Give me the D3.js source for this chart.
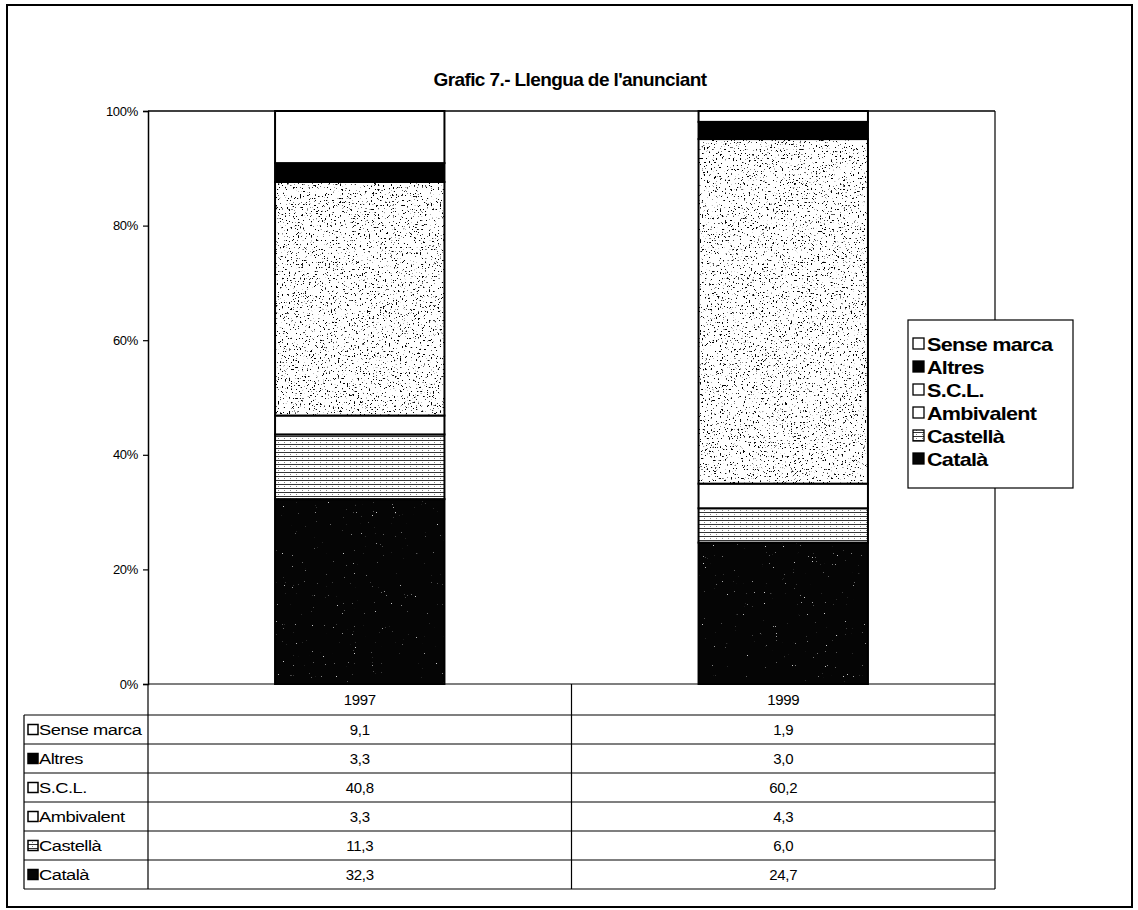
<!DOCTYPE html>
<html>
<head>
<meta charset="utf-8">
<script src="https://cdn.jsdelivr.net/npm/d3@7"></script>
<style>
  html, body { margin: 0; padding: 0; background: #fff; }
  svg { display: block; font-family: "Liberation Sans", Arial, sans-serif; }
</style>
</head>
<body>
<svg id="chart" width="1138" height="910"></svg>
<script>
// ---- data ----
const years = ["1997", "1999"];
const seriesBottomUp = ["Català", "Castellà", "Ambivalent", "S.C.L.", "Altres", "Sense marca"];
const catala     = [32.3, 24.7];
const castella   = [11.3, 6.0];
const ambivalent = [3.3, 4.3];
const scl        = [40.8, 60.2];
const altres     = [3.3, 3.0];
const senseMarca = [9.1, 1.9];
const yTickValues = [0, 0.2, 0.4, 0.6, 0.8, 1];
const titleText = "Grafic 7.- Llengua de l'anunciant";

const valuesBySeries = {
  "Català": catala, "Castellà": castella, "Ambivalent": ambivalent,
  "S.C.L.": scl, "Altres": altres, "Sense marca": senseMarca
};
const rows = years.map((yr, i) => {
  const r = { year: yr };
  seriesBottomUp.forEach(s => r[s] = valuesBySeries[s][i]);
  return r;
});
const tableOrder = seriesBottomUp.slice().reverse();

// ---- layout ----
const svg = d3.select("#chart");
const L = 148, R = 995, T = 111, B = 684;
const headerH = 31, rowH = 29, tableLeft = 24;

const defs = svg.append("defs");
// horizontal-line pattern (Castellà)
const pc = defs.append("pattern").attr("id", "pCast").attr("patternUnits", "userSpaceOnUse")
  .attr("width", 6).attr("height", 4);
pc.append("rect").attr("width", 6).attr("height", 4).attr("fill", "#fff");
pc.append("rect").attr("y", 0).attr("width", 6).attr("height", 1).attr("fill", "#333");
pc.append("rect").attr("x", 2).attr("y", 2).attr("width", 1).attr("height", 1).attr("fill", "#888");
// speckle filters
function speckle(id, freq, k, t, seed, color) {
  const f = defs.append("filter").attr("id", id)
    .attr("x", 0).attr("y", 0).attr("width", 1).attr("height", 1);
  f.append("feTurbulence").attr("type", "fractalNoise").attr("baseFrequency", freq)
    .attr("numOctaves", 4).attr("seed", seed).attr("result", "n");
  const c = color;
  f.append("feColorMatrix").attr("in", "n").attr("type", "matrix")
    .attr("values", `0 0 0 0 ${c} 0 0 0 0 ${c} 0 0 0 0 ${c} ${-k} 0 0 0 ${k * t}`)
    .attr("result", "d");
  f.append("feComposite").attr("in", "d").attr("in2", "SourceAlpha").attr("operator", "in");
}
speckle("spkDark", 0.55, 14, 0.35, 5, 0);
speckle("spkLight", 0.9, 12, 0.22, 9, 0.6);

// outer frame
svg.append("rect").attr("x", 7).attr("y", 5).attr("width", 1125).attr("height", 902)
  .attr("fill", "none").attr("stroke", "#000").attr("stroke-width", 2);

// title
svg.append("text").attr("x", 570).attr("y", 86).attr("text-anchor", "middle")
  .attr("font-size", 19).attr("font-weight", "bold").attr("letter-spacing", -0.6)
  .text(titleText);

// scales
const x = d3.scaleBand().domain(years).range([L, R]).padding(0);
const barW = x.bandwidth() * 0.4;
const y = d3.scaleLinear().domain([0, 1]).range([B, T]);

const stack = d3.stack().keys(seriesBottomUp).offset(d3.stackOffsetExpand);
const stacked = stack(rows);

const fills = {
  "Català": "#050505", "Castellà": "url(#pCast)", "Ambivalent": "#fff",
  "S.C.L.": "#fff", "Altres": "#000", "Sense marca": "#fff"
};
const overlay = { "Català": "spkLight", "S.C.L.": "spkDark" };

// plot border (top)
svg.append("line").attr("x1", L).attr("x2", R).attr("y1", T).attr("y2", T)
  .attr("stroke", "#000").attr("stroke-width", 1.5);

// bars
const gBars = svg.append("g");
stacked.forEach(layer => {
  const key = layer.key;
  const g = gBars.append("g");
  g.selectAll("rect.seg").data(layer).join("rect").attr("class", "seg")
    .attr("x", d => x(d.data.year) + (x.bandwidth() - barW) / 2)
    .attr("width", barW)
    .attr("y", d => y(d[1]))
    .attr("height", d => y(d[0]) - y(d[1]))
    .attr("fill", fills[key]);
  if (overlay[key]) {
    g.selectAll("rect.ov").data(layer).join("rect").attr("class", "ov")
      .attr("x", d => x(d.data.year) + (x.bandwidth() - barW) / 2)
      .attr("width", barW)
      .attr("y", d => y(d[1]))
      .attr("height", d => y(d[0]) - y(d[1]))
      .attr("fill", "#000").attr("filter", `url(#${overlay[key]})`);
  }
  g.selectAll("rect.out").data(layer).join("rect").attr("class", "out")
    .attr("x", d => x(d.data.year) + (x.bandwidth() - barW) / 2)
    .attr("width", barW)
    .attr("y", d => y(d[1]))
    .attr("height", d => y(d[0]) - y(d[1]))
    .attr("fill", "none").attr("stroke", "#000").attr("stroke-width", 2);
});

// y axis
const yAxis = d3.axisLeft(y).tickValues(yTickValues).tickFormat(d3.format(".0%"))
  .tickSize(5).tickPadding(5);
const gy = svg.append("g").attr("transform", `translate(${L},0)`).call(yAxis);
gy.select(".domain").attr("stroke-width", 1.5);
gy.selectAll("line").attr("stroke-width", 1.2);
gy.selectAll("text").attr("font-size", 13).attr("letter-spacing", -0.3)
  .attr("font-family", "Liberation Sans, Arial, sans-serif").attr("fill", "#000");

// ---- data table ----
const tableTop = B + headerH;
const tableBottom = tableTop + rowH * tableOrder.length;
const gT = svg.append("g").attr("stroke", "#000").attr("stroke-width", 1.2);
gT.append("line").attr("x1", L).attr("x2", R).attr("y1", B).attr("y2", B);
gT.append("line").attr("x1", L).attr("x2", L).attr("y1", B).attr("y2", tableBottom);
gT.append("line").attr("x1", R).attr("x2", R).attr("y1", T).attr("y2", tableBottom);
gT.append("line").attr("x1", x("1999")).attr("x2", x("1999")).attr("y1", B).attr("y2", tableBottom);
gT.append("line").attr("x1", tableLeft).attr("x2", tableLeft).attr("y1", tableTop).attr("y2", tableBottom);
d3.range(tableOrder.length + 1).forEach(i => {
  gT.append("line").attr("x1", tableLeft).attr("x2", R)
    .attr("y1", tableTop + i * rowH).attr("y2", tableTop + i * rowH);
});

const fmt = v => d3.format(".1f")(v).replace(".", ",");
const gTxt = svg.append("g").attr("font-size", 15).attr("letter-spacing", -0.3);
years.forEach(yr => {
  gTxt.append("text").attr("x", x(yr) + x.bandwidth() / 2).attr("y", B + headerH / 2 + 5)
    .attr("text-anchor", "middle").text(yr);
});
tableOrder.forEach((s, i) => {
  const cy = tableTop + i * rowH + rowH / 2;
  svg.append("rect").attr("x", 28).attr("y", cy - 5).attr("width", 10).attr("height", 10)
    .attr("fill", fills[s]).attr("stroke", "#000").attr("stroke-width", 1.5);
  gTxt.append("text").attr("transform", `translate(39,${cy + 5.5}) scale(1.22,1)`)
    .attr("font-size", 15).attr("letter-spacing", -0.4).text(s);
  years.forEach((yr, j) => {
    gTxt.append("text").attr("x", x(yr) + x.bandwidth() / 2).attr("y", cy + 5.5)
      .attr("text-anchor", "middle").text(fmt(valuesBySeries[s][j]));
  });
});

// ---- legend ----
const lg = svg.append("g").attr("transform", "translate(908,320)");
lg.append("rect").attr("width", 165).attr("height", 168).attr("fill", "#fff")
  .attr("stroke", "#000").attr("stroke-width", 1.2);
tableOrder.forEach((s, i) => {
  const cy = 24 + i * 23;
  lg.append("rect").attr("x", 5).attr("y", cy - 6).attr("width", 11).attr("height", 11)
    .attr("fill", fills[s]).attr("stroke", "#000").attr("stroke-width", 1.3);
  lg.append("text").attr("transform", `translate(19,${cy + 6.5}) scale(1.2,1)`)
    .attr("font-size", 18).attr("font-weight", "bold").attr("letter-spacing", -0.6).text(s);
});
</script>
</body>
</html>
